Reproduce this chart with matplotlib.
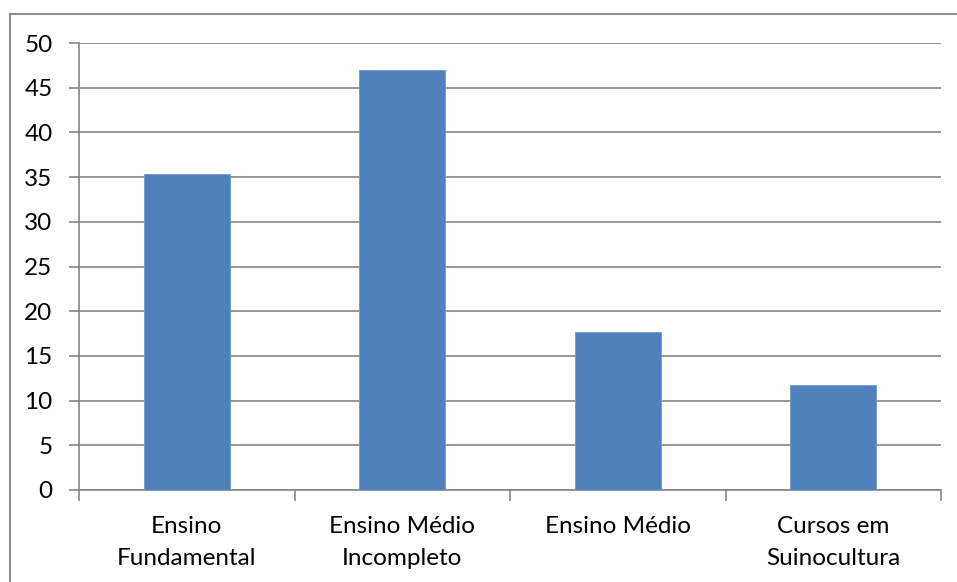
import matplotlib.pyplot as plt
from matplotlib.lines import Line2D

# data
categories = ['Ensino\nFundamental', 'Ensino Médio\nIncompleto', 'Ensino Médio', 'Cursos em\nSuinocultura']
values = [35.3, 47.0, 17.7, 11.8]
yticks = [0, 5, 10, 15, 20, 25, 30, 35, 40, 45, 50]

W, H = 957, 582
plt.rcParams['font.family'] = ['Lato', 'DejaVu Sans']

fig = plt.figure(figsize=(W / 100, H / 100), dpi=100)
ax = fig.add_axes([79 / W, 1 - 490 / H, (941 - 79) / W, (490 - 43) / H])

grid_col = '#868686'
x = list(range(len(categories)))
ax.bar(x, values, width=0.4, color='#4f81bd', edgecolor='#6f9ad0', linewidth=0.6, zorder=3)

ax.set_xlim(-0.5, len(categories) - 0.5)
ax.set_ylim(0, 50)
ax.set_yticks(yticks)
ax.yaxis.grid(True, color=grid_col, linewidth=1.2, zorder=0)

# category labels centred, ticks at category boundaries
ax.set_xticks(x)
ax.set_xticklabels(categories, fontsize=17.5, linespacing=1.6)
ax.tick_params(axis='x', length=0, pad=19)
ax.set_xticks([i - 0.5 for i in range(len(categories) + 1)], minor=True)
ax.tick_params(axis='x', which='minor', length=8, width=1.2, color=grid_col)
ax.tick_params(axis='y', length=7, width=1.2, color=grid_col, labelsize=17.5, pad=12)

for s in ['top', 'right']:
    ax.spines[s].set_visible(False)
for s in ['left', 'bottom']:
    ax.spines[s].set_color(grid_col)
    ax.spines[s].set_linewidth(1.2)

# outer chart border (only top and left visible in the crop)
fig.add_artist(Line2D([9.5 / W, 9.5 / W], [0, 1 - 14 / H], transform=fig.transFigure,
                      color='#8c8c8c', linewidth=1.5))
fig.add_artist(Line2D([9.5 / W, 1], [1 - 14 / H, 1 - 14 / H], transform=fig.transFigure,
                      color='#8c8c8c', linewidth=1.5))

fig.savefig('out.png', dpi=100)
